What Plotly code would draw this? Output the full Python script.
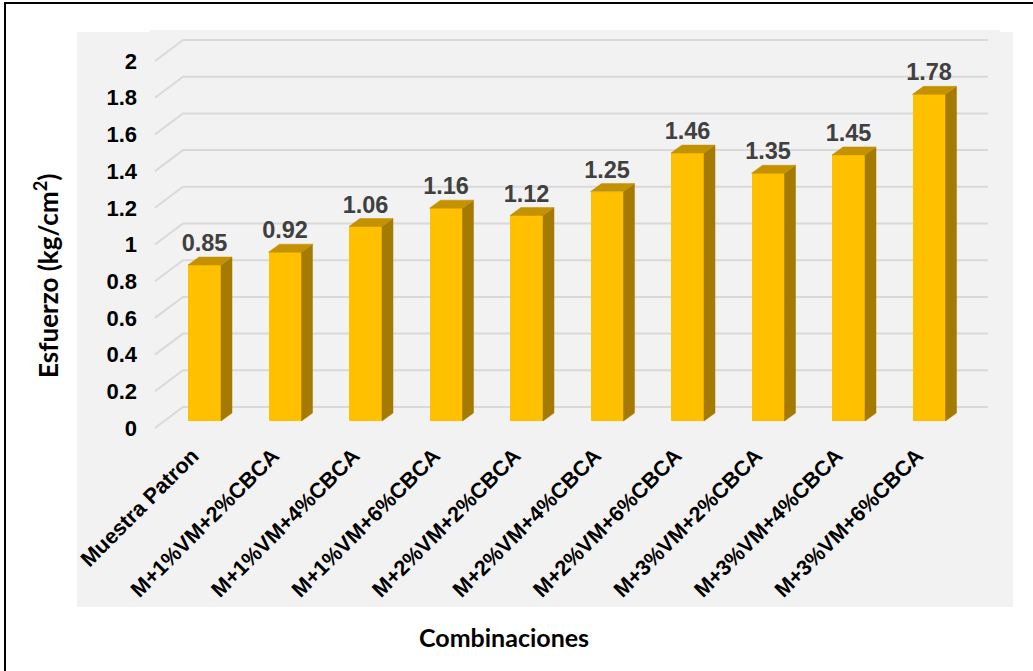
import plotly.graph_objects as go

# ---- data ----
CATEGORIES = [
    "Muestra Patron",
    "M+1%VM+2%CBCA",
    "M+1%VM+4%CBCA",
    "M+1%VM+6%CBCA",
    "M+2%VM+2%CBCA",
    "M+2%VM+4%CBCA",
    "M+2%VM+6%CBCA",
    "M+3%VM+2%CBCA",
    "M+3%VM+4%CBCA",
    "M+3%VM+6%CBCA",
]
VALUES = [0.85, 0.92, 1.06, 1.16, 1.12, 1.25, 1.46, 1.35, 1.45, 1.78]
Y_TICK_VALUES = [0, 0.2, 0.4, 0.6, 0.8, 1.0, 1.2, 1.4, 1.6, 1.8, 2.0]
Y_TICK_TEXT = ["0", "0.2", "0.4", "0.6", "0.8", "1", "1.2", "1.4", "1.6", "1.8", "2"]

# ---- page geometry (pixels) ----
W, H = 1033, 671
PLOT_L, PLOT_R, PLOT_T, PLOT_B = 150, 1000, 30, 430
CAT0_PX, CAT_STEP_PX = 204.5, 80.5        # first category centre, spacing
BASE_PX, UNIT_PX = 421.0, 183.5           # bar base line, pixels per unit
FRONT_SHIFT_PX = 7                        # front (tick) plane below the bars
BACK_SHIFT_PX = 14                        # back wall above the bars
GRID_FRONT_X, GRID_BACK_X, GRID_END_X = 155, 183, 988
BAR_W = 0.41
DEPTH_DX_PX, DEPTH_DY_PX = 11, 8          # extrusion of each bar
LABEL_GAP_PX = 8

FRONT = "#FFC000"
SIDE = "#A47B00"
TOP = "#C49100"
GRID = "#D9D9D9"
PANEL = "#F2F2F2"
BOLD_FONT = "Arial, Liberation Sans, sans-serif"
TITLE_FONT = "Lato, Carlito, Calibri, sans-serif"


def xu(px):
    return (px - CAT0_PX) / CAT_STEP_PX


def px_to_units(dpx):
    return dpx / UNIT_PX


def paper_x(px):
    return (px - PLOT_L) / (PLOT_R - PLOT_L)


def paper_y(py):
    return (PLOT_B - py) / (PLOT_B - PLOT_T)


idx = list(range(len(CATEGORIES)))
x_range = [xu(PLOT_L), xu(PLOT_R)]
y_range = [(BASE_PX - PLOT_B) / UNIT_PX, (BASE_PX - PLOT_T) / UNIT_PX]
y2_range = [(BASE_PX + FRONT_SHIFT_PX - PLOT_B) / UNIT_PX,
            (BASE_PX + FRONT_SHIFT_PX - PLOT_T) / UNIT_PX]

dx = DEPTH_DX_PX / CAT_STEP_PX
dy = px_to_units(DEPTH_DY_PX)

# side and top faces of the extruded bars
side_x, side_y, top_x, top_y = [], [], [], []
for i, v in zip(idx, VALUES):
    l, r = i - BAR_W / 2, i + BAR_W / 2
    side_x += [r, r + dx, r + dx, r, r, None]
    side_y += [0, dy, v + dy, v, 0, None]
    top_x += [l, r, r + dx, l + dx, l, None]
    top_y += [v, v, v + dy, v + dy, v, None]

fig = go.Figure()
fig.add_trace(go.Bar(
    x=idx, y=VALUES, width=BAR_W,
    marker=dict(color=FRONT, line=dict(width=0)),
    hoverinfo="skip", showlegend=False,
))
fig.add_trace(go.Scatter(
    x=side_x, y=side_y, mode="lines", fill="toself", fillcolor=SIDE,
    line=dict(color=SIDE, width=0.5), hoverinfo="skip", showlegend=False,
))
fig.add_trace(go.Scatter(
    x=top_x, y=top_y, mode="lines", fill="toself", fillcolor=TOP,
    line=dict(color=TOP, width=0.5), hoverinfo="skip", showlegend=False,
))
fig.add_trace(go.Scatter(
    x=idx, y=[v + px_to_units(LABEL_GAP_PX) for v in VALUES],
    mode="text", text=[f"{v:.2f}" for v in VALUES],
    textposition="top center",
    textfont=dict(family=BOLD_FONT, size=23.5, color="#404040", weight="bold"),
    cliponaxis=False, hoverinfo="skip", showlegend=False,
))
# carrier for the value axis drawn on the front plane
fig.add_trace(go.Scatter(
    x=[0], y=[0], yaxis="y2", mode="markers", marker=dict(opacity=0),
    hoverinfo="skip", showlegend=False,
))

shapes = [
    # grey panel
    dict(type="rect", xref="paper", yref="paper", layer="below",
         x0=paper_x(77), x1=paper_x(1013), y0=paper_y(607), y1=paper_y(32),
         fillcolor=PANEL, line=dict(width=0)),
    # outer frame
    dict(type="rect", xref="paper", yref="paper", layer="above",
         x0=paper_x(5), x1=paper_x(W + 20), y0=paper_y(H + 20), y1=paper_y(3),
         fillcolor="rgba(0,0,0,0)", line=dict(color="black", width=2)),
]
# gridlines: front tick plane -> back wall -> across
for t in Y_TICK_VALUES:
    yf = t - px_to_units(FRONT_SHIFT_PX)
    yb = t + px_to_units(BACK_SHIFT_PX)
    shapes.append(dict(
        type="path", xref="x", yref="y", layer="below",
        path=f"M {xu(GRID_FRONT_X)},{yf} L {xu(GRID_BACK_X)},{yb} L {xu(GRID_END_X)},{yb}",
        line=dict(color=GRID, width=2),
    ))

annotations = [
    dict(text="Esfuerzo (kg/cm<sup>2</sup>)", xref="paper", yref="paper",
         x=paper_x(46), y=paper_y(276), xanchor="center", yanchor="middle",
         textangle=-90, showarrow=False,
         font=dict(family=TITLE_FONT, size=26, color="black", weight="bold")),
    dict(text="Combinaciones", xref="paper", yref="paper",
         x=paper_x(504), y=paper_y(637), xanchor="center", yanchor="middle",
         showarrow=False,
         font=dict(family=TITLE_FONT, size=25, color="black", weight="bold")),
]

fig.update_layout(
    width=W, height=H,
    margin=dict(l=PLOT_L, r=W - PLOT_R, t=PLOT_T, b=H - PLOT_B),
    paper_bgcolor="white", plot_bgcolor=PANEL,
    bargap=0, shapes=shapes, annotations=annotations,
    xaxis=dict(
        range=x_range, tickmode="array", tickvals=idx, ticktext=CATEGORIES,
        tickangle=-45, showgrid=False, zeroline=False, showline=False, ticks="",
        ticklabelshift=-12, ticklabelstandoff=8,
        tickfont=dict(family=BOLD_FONT, size=21.5, color="black", weight="bold"),
        fixedrange=True,
    ),
    yaxis=dict(range=y_range, showgrid=False, zeroline=False, showline=False,
               showticklabels=False, ticks="", fixedrange=True),
    yaxis2=dict(
        range=y2_range, overlaying="y", side="left", anchor="x",
        tickmode="array", tickvals=Y_TICK_VALUES, ticktext=Y_TICK_TEXT,
        showgrid=False, zeroline=False, showline=False, ticks="",
        ticklabelstandoff=12,
        tickfont=dict(family=BOLD_FONT, size=22, color="black", weight="bold"),
        fixedrange=True,
    ),
)

fig.write_html("out.html")
